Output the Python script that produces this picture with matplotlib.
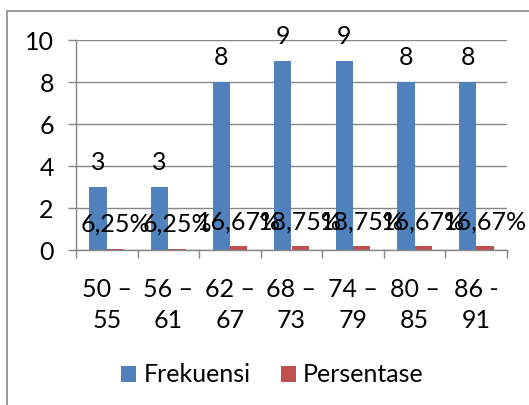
import numpy as np
import matplotlib.pyplot as plt
from matplotlib.patches import Rectangle

plt.rcParams['font.family'] = ['Lato', 'DejaVu Sans']

# data
kelas = ['50 –\n55', '56 –\n61', '62 –\n67', '68 –\n73', '74 –\n79', '80 –\n85', '86 -\n91']
frekuensi = [3, 3, 8, 9, 9, 8, 8]
persentase = [0.0625, 0.0625, 0.1667, 0.1875, 0.1875, 0.1667, 0.1667]
label_persen = ['6,25%', '6,25%', '16,67%', '18,75%', '18,75%', '16,67%', '16,67%']

biru = '#4F81BD'
merah = '#C0504D'
abu = '#868686'
fs = 18

fig = plt.figure(figsize=(5.29, 4.05), dpi=100)
ax = fig.add_axes([76 / 529, 1 - 250 / 405, 431 / 529, 210 / 405])

x = np.arange(len(kelas))
w = 0.283
b1 = ax.bar(x - w / 2, frekuensi, w, color=biru, label='Frekuensi')
b2 = ax.bar(x + w / 2, persentase, w, color=merah, label='Persentase')

for xi, v in zip(x, frekuensi):
    ax.annotate(str(v), (xi - w / 2, v), xytext=(0, 12), textcoords='offset points',
                ha='center', va='baseline', fontsize=fs)
for xi, v, t in zip(x, persentase, label_persen):
    ax.annotate(t, (xi + w / 2, v), xytext=(0, 12), textcoords='offset points',
                ha='center', va='baseline', fontsize=fs)

ax.set_xlim(-0.5, len(kelas) - 0.5)
ax.set_ylim(0, 10)
ax.set_yticks(range(0, 11, 2))
ax.tick_params(axis='y', labelsize=fs, length=6, color=abu, width=1, pad=10)
ax.yaxis.grid(True, color=abu, linewidth=1)
ax.set_axisbelow(True)

ax.set_xticks(np.arange(-0.5, len(kelas), 1))
ax.set_xticklabels([])
ax.tick_params(axis='x', which='major', length=6, color=abu, width=1)
ax.set_xticks(x, minor=True)
ax.set_xticklabels(kelas, minor=True, fontsize=fs, linespacing=1.45)
ax.tick_params(axis='x', which='minor', length=0, pad=20)

for s in ['top', 'right']:
    ax.spines[s].set_visible(False)
for s in ['left', 'bottom']:
    ax.spines[s].set_color(abu)
    ax.spines[s].set_linewidth(1)

fig.legend(handles=[b1, b2], loc='center', bbox_to_anchor=(272.5 / 529, 30 / 405),
           ncol=2, frameon=False, fontsize=fs, handlelength=0.6, handleheight=0.6,
           handletextpad=0.3, columnspacing=1.2)

# chart border
fig.patches.append(Rectangle((7 / 529, -0.1), 1.2, 1.1 - 11 / 405, transform=fig.transFigure,
                             fill=False, edgecolor=abu, linewidth=1.2))

fig.savefig('out.png', dpi=100)
